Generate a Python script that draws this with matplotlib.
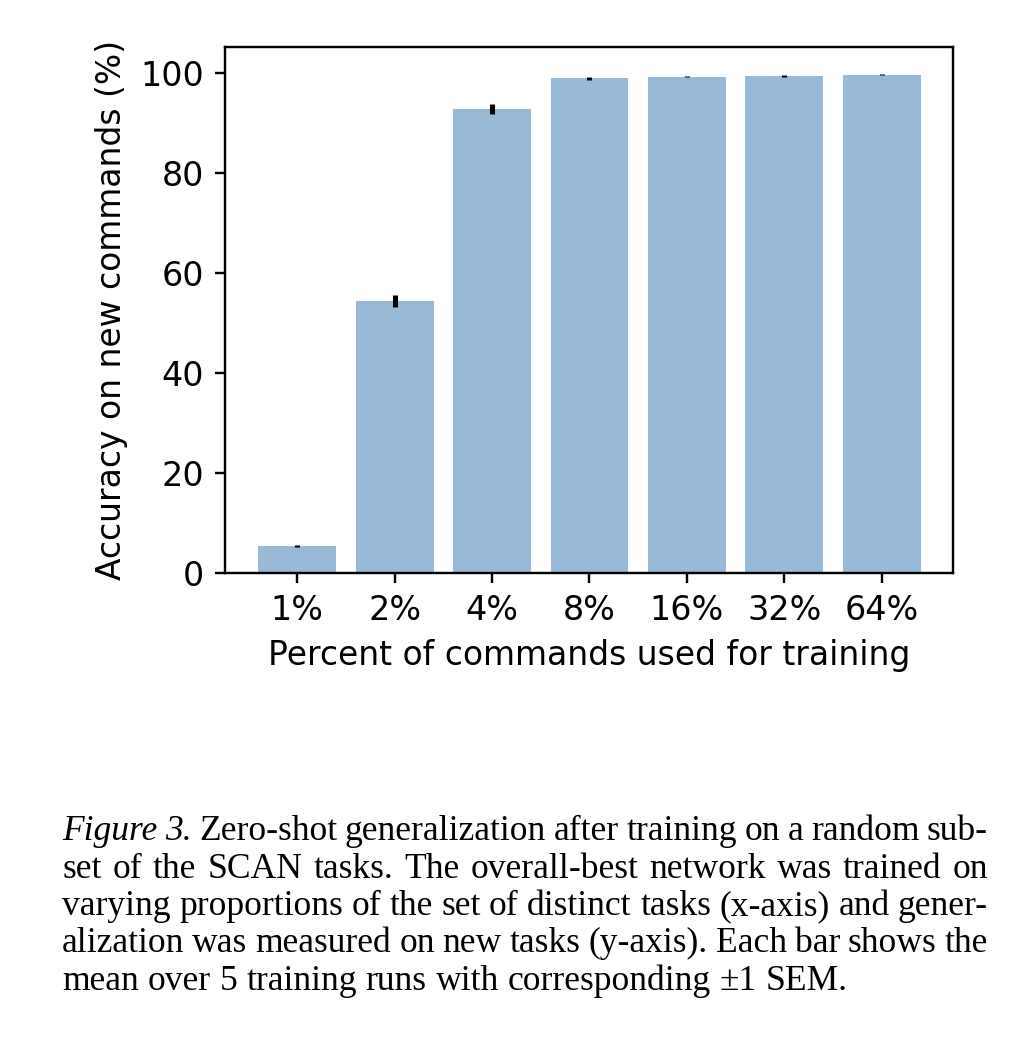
import matplotlib.pyplot as plt
import numpy as np

# data
percent_labels = ['1%', '2%', '4%', '8%', '16%', '32%', '64%']
accuracy = [5.4, 54.5, 92.8, 99.0, 99.3, 99.4, 99.7]
sem = [0.15, 1.2, 1.0, 0.3, 0.1, 0.2, 0.1]

caption_lines = [
    [('Figure 3.', 'italic'), ('Zero-shot generalization after training on a random sub-', 'normal')],
    [('set of the SCAN tasks. The overall-best network was trained on', 'normal')],
    [('varying proportions of the set of distinct tasks (x-axis) and gener-', 'normal')],
    [('alization was measured on new tasks (y-axis). Each bar shows the', 'normal')],
    [('mean over 5 training runs with corresponding \u00b11 SEM.', 'normal')],
]
justify = [True, True, True, True, False]

W, H, DPI = 1016, 1044, 215
plt.rcParams['font.size'] = 11
fig = plt.figure(figsize=(W / DPI, H / DPI), dpi=DPI)
ax = fig.add_axes([225 / W, 1 - 573 / H, (953 - 225) / W, (573 - 47) / H])

x = np.arange(len(percent_labels))
ax.bar(x, accuracy, width=0.8, color='#99bad6', edgecolor='none')
ax.errorbar(x, accuracy, yerr=sem, fmt='none', ecolor='black', elinewidth=1.7, capsize=0)

ax.set_xlim(-0.74, 6.73)
ax.set_ylim(0, 105.2)
ax.set_xticks(x)
ax.set_xticklabels(percent_labels)
ax.set_yticks([0, 20, 40, 60, 80, 100])
ax.tick_params(labelsize=11.2)
ax.set_xlabel('Percent of commands used for training')
ax.set_ylabel('Accuracy on new commands (%)')

# caption, drawn word by word so lines can be justified
serif = 'Liberation Serif'
fs = 11.9
left_px, right_px = 62, 988
fig.canvas.draw()
renderer = fig.canvas.get_renderer()
probe1 = fig.text(0, 0, 'a a', fontsize=fs, family=serif)
probe2 = fig.text(0, 0, 'aa', fontsize=fs, family=serif)
space = probe1.get_window_extent(renderer).width - probe2.get_window_extent(renderer).width
probe1.remove()
probe2.remove()
for i, (segs, just) in enumerate(zip(caption_lines, justify)):
    y = 1 - (840 + i * 37.5) / H
    words = []
    for txt, style in segs:
        for w in txt.split():
            words.append((w, style))
    arts = [fig.text(0, y, w, fontsize=fs, family=serif, style=st, va='baseline')
            for w, st in words]
    widths = [a.get_window_extent(renderer).width for a in arts]
    if just and len(words) > 1:
        gap = (right_px - left_px - sum(widths)) / (len(words) - 1)
    else:
        gap = space
    pos = left_px
    for a, w in zip(arts, widths):
        a.set_x(pos / W)
        pos += w + gap

fig.savefig('out.png', dpi=DPI)
